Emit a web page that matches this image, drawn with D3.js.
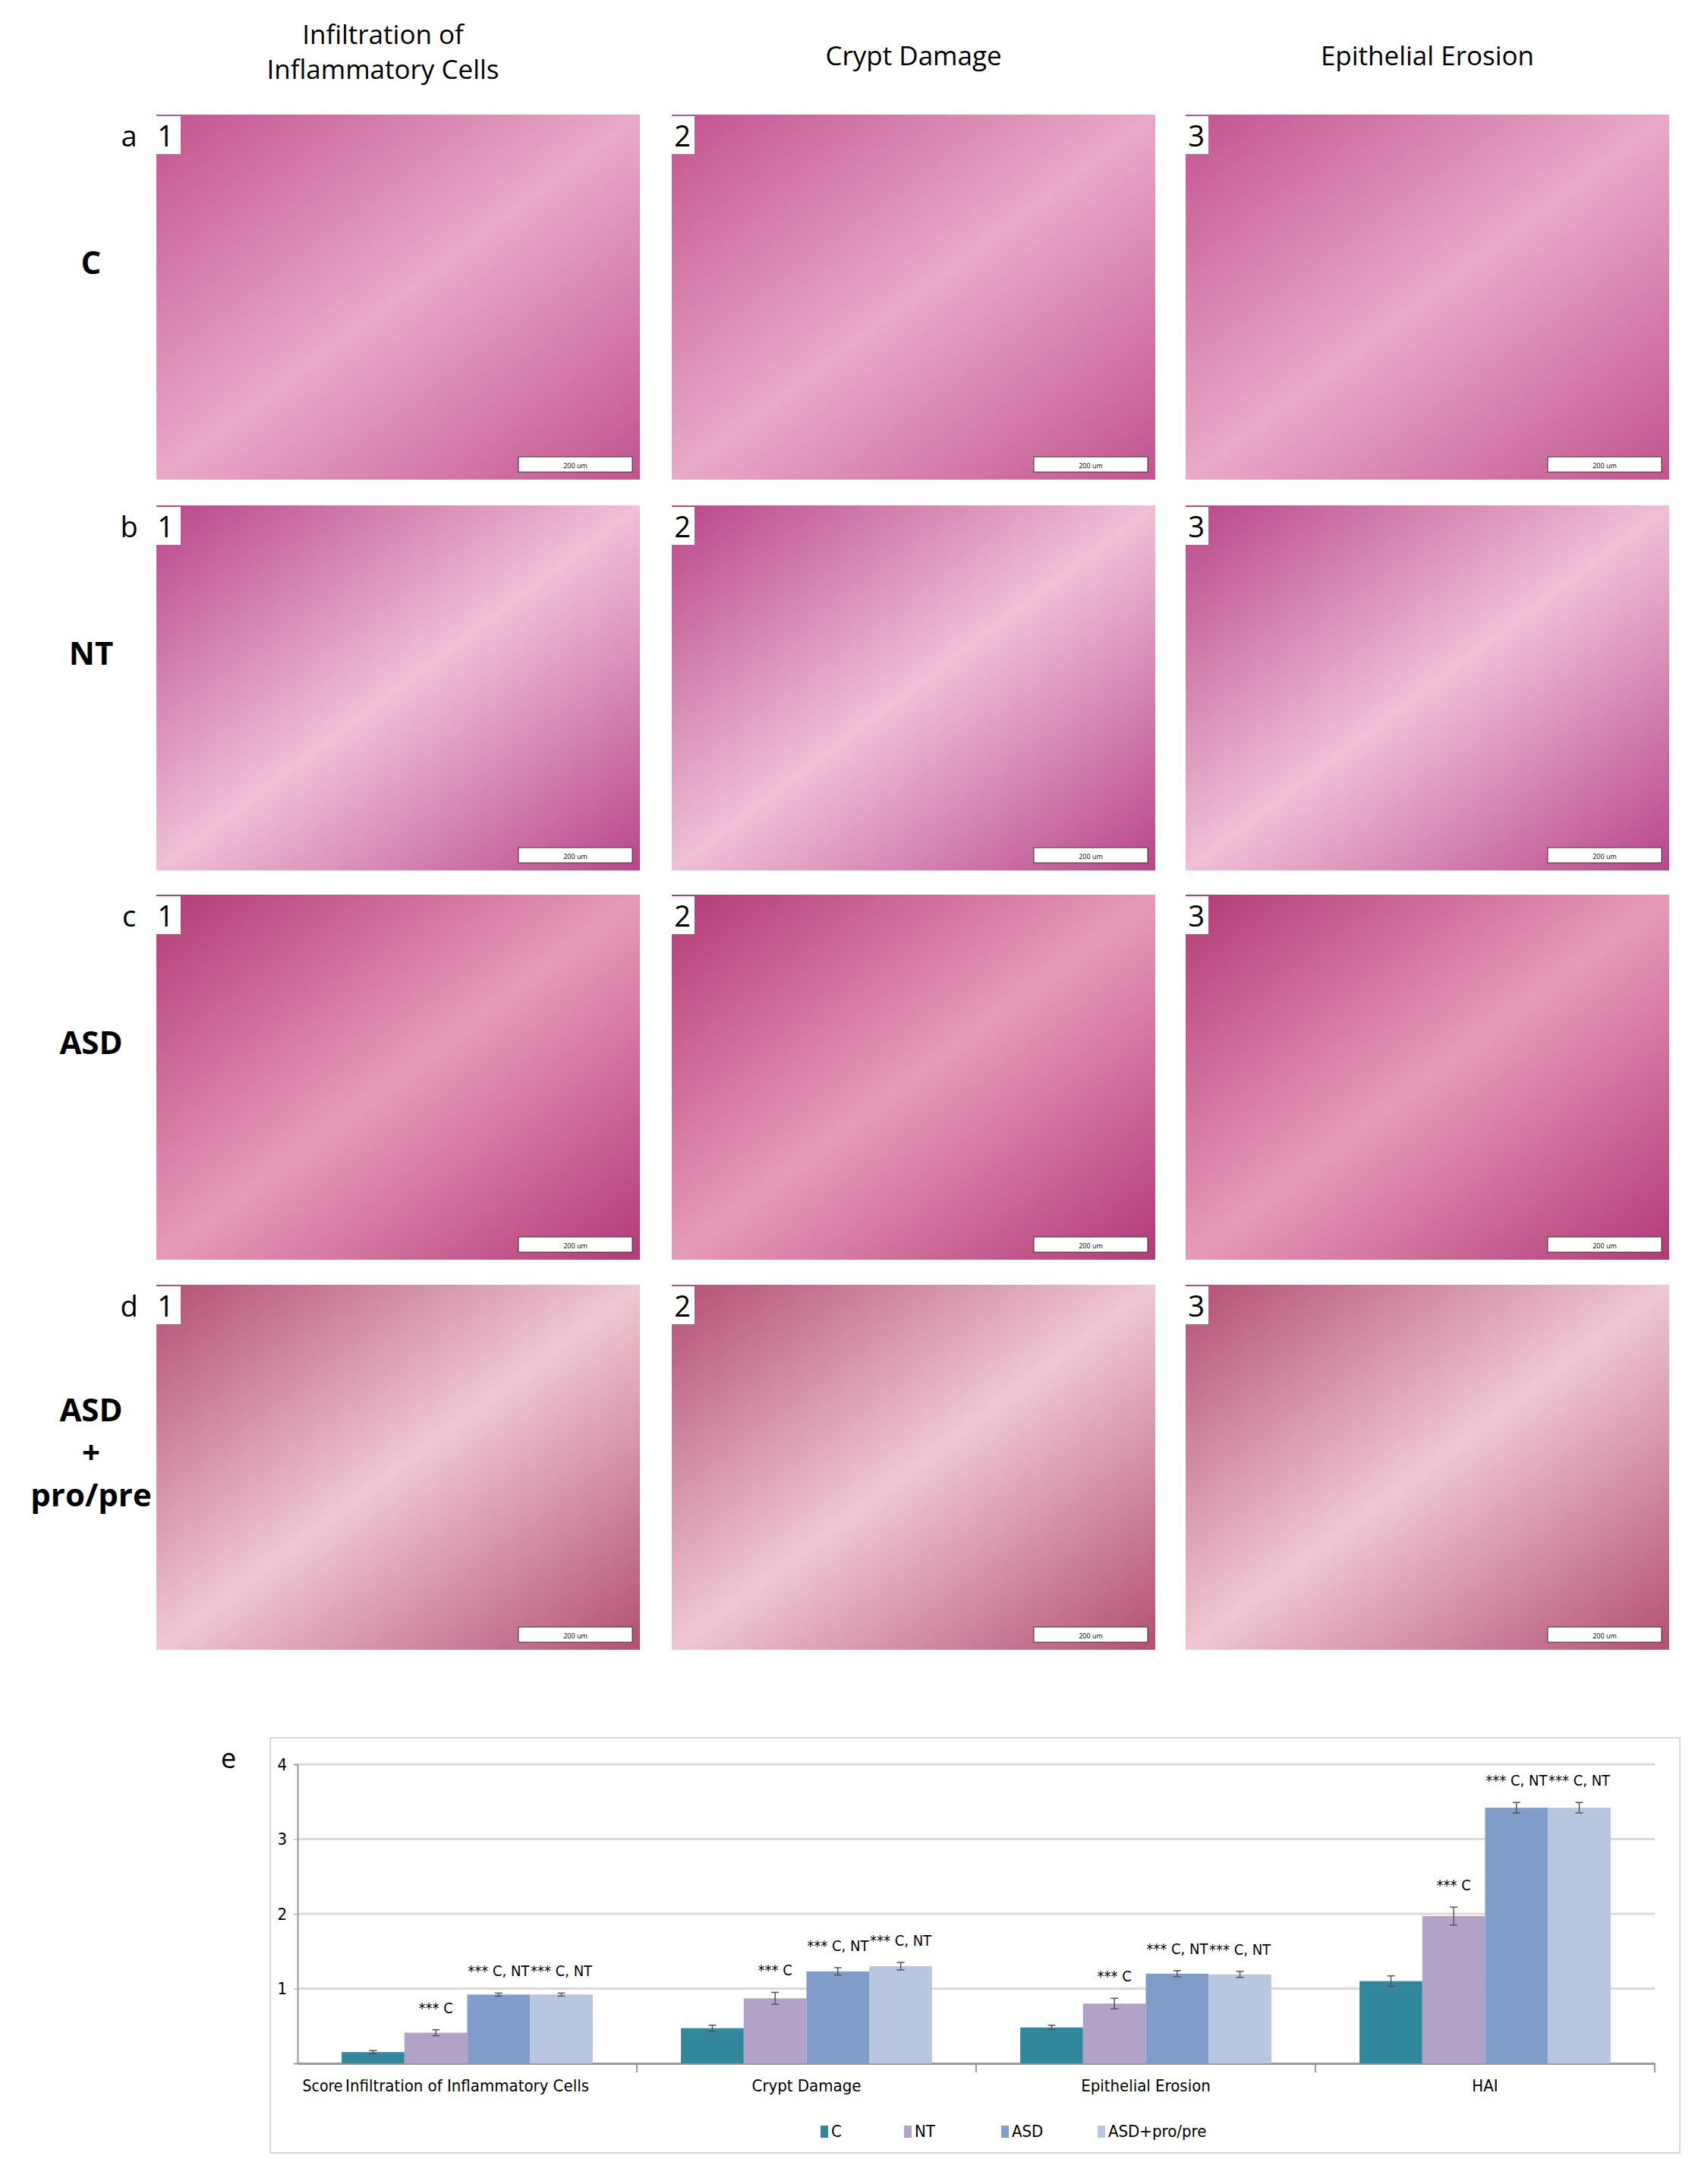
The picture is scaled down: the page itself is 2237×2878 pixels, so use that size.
<!DOCTYPE html>
<html><head><meta charset="utf-8">
<script src="https://cdn.jsdelivr.net/npm/d3@7"></script>
<style>body{margin:0;background:#fff}</style></head>
<body><svg id="c" width="2237" height="2878"></svg>
<script>
const categories=["Infiltration of Inflammatory Cells","Crypt Damage","Epithelial Erosion","HAI"];
const groups=["C","NT","ASD","ASD+pro/pre"];
const colors=["#31879C","#B2A2C8","#7F9DC8","#B8C6E0"];
const valC=[0.15,0.47,0.48,1.10];
const valNT=[0.41,0.87,0.80,1.97];
const valASD=[0.92,1.23,1.20,3.42];
const valPP=[0.92,1.30,1.19,3.42];
const errC=[0.02,0.04,0.03,0.07];
const errNT=[0.04,0.08,0.07,0.12];
const errASD=[0.02,0.05,0.04,0.07];
const errPP=[0.02,0.05,0.04,0.07];
const sigNT=["*** C","*** C","*** C","*** C"];
const sigASD=["*** C, NT","*** C, NT","*** C, NT","*** C, NT"];
const yTicks=[1,2,3,4];
const colHeaders=[["Infiltration of","Inflammatory Cells"],["Crypt Damage"],["Epithelial Erosion"]];
const rowLetters=["a","b","c","d"];
const rowNames=[["C"],["NT"],["ASD"],["ASD","+","pro/pre"]];

const svg=d3.select("#c");
const F="'Open Sans', sans-serif";
const N="'Liberation Sans Narrow', 'DejaVu Sans Condensed', sans-serif";
const colX=[206,885,1562], colW=637, rowY=[151,666,1179,1693], rowH=481;
colHeaders.forEach((h,i)=>{
  const cx=colX[i]+colW/2-(i==0?20:0);
  h.forEach((t,j)=>svg.append("text").attr("x",cx).attr("y",(h.length==2?58+j*46:86)).attr("text-anchor","middle")
    .attr("font-family",F).attr("font-size",35).text(t));
});
const tones=[["#e9a9c8","#c2538f"],["#efc0d6","#b8468a"],["#e79ab8","#b23a78"],["#efc7d2","#b34f74"]];
rowY.forEach((ry,r)=>{
  colX.forEach((cx,c)=>{
    const id="g"+r+c;
    const gr=svg.append("defs").append("linearGradient").attr("id",id).attr("x1",0).attr("y1",0).attr("x2",1).attr("y2",1);
    gr.append("stop").attr("offset","0").attr("stop-color",tones[r][1]);
    gr.append("stop").attr("offset","0.5").attr("stop-color",tones[r][0]);
    gr.append("stop").attr("offset","1").attr("stop-color",tones[r][1]);
    svg.append("rect").attr("x",cx).attr("y",ry).attr("width",colW).attr("height",rowH).attr("fill","url(#"+id+")");
    svg.append("rect").attr("x",cx+colW-160).attr("y",ry+rowH-30).attr("width",150).attr("height",20).attr("fill","#fff").attr("stroke","#333");
    svg.append("text").attr("x",cx+colW-85).attr("y",ry+rowH-15).attr("text-anchor","middle").attr("font-family",F).attr("font-size",9).text("200 um");
    svg.append("rect").attr("x",cx+(c==0?-2:-4)).attr("y",ry+2).attr("width",34).attr("height",50).attr("fill","#fff");
    svg.append("text").attr("x",cx+(c==0?12:14)).attr("y",ry+42).attr("text-anchor","middle").attr("font-family",F).attr("font-size",38).text(c+1);
  });
  svg.append("text").attr("x",170).attr("y",ry+42).attr("text-anchor","middle").attr("font-family",F).attr("font-size",38).text(rowLetters[r]);
  const nm=rowNames[r];
  nm.forEach((t,j)=>svg.append("text").attr("x",120).attr("y",(nm.length==1?ry+210:ry+180+j*56)).attr("text-anchor","middle")
    .attr("font-family",F).attr("font-weight","bold").attr("font-size",42).text(t));
});

svg.append("rect").attr("x",356).attr("y",2290).attr("width",1857).attr("height",547).attr("fill","#fff").attr("stroke","#d9d9d9").attr("stroke-width",2);
svg.append("text").attr("x",301).attr("y",2330).attr("text-anchor","middle").attr("font-family",F).attr("font-size",36).text("e");
const x0=d3.scaleBand().domain(categories).range([392,2180]);
const y=d3.scaleLinear().domain([0,4]).range([2719,2325]);
yTicks.forEach(t=>svg.append("line").attr("x1",392).attr("x2",2180).attr("y1",y(t)).attr("y2",y(t)).attr("stroke","#d9d9d9").attr("stroke-width",3));
svg.append("g").attr("transform","translate(392,0)").call(d3.axisLeft(y).tickValues(yTicks).tickSize(5).tickFormat(d3.format("d")))
  .call(g=>{g.select(".domain").attr("stroke","#999").attr("stroke-width",2);g.selectAll("line").attr("stroke","#999");g.selectAll("text").attr("font-family",N).attr("font-size",22).attr("dx",-6);});
svg.append("g").attr("transform","translate(0,2719)").call(d3.axisBottom(x0).tickSize(0).tickFormat(""))
  .call(g=>g.select(".domain").attr("stroke","#999").attr("stroke-width",3));
categories.forEach((c,i)=>{ if(i>0) svg.append("line").attr("x1",x0(c)).attr("x2",x0(c)).attr("y1",2719).attr("y2",2731).attr("stroke","#999").attr("stroke-width",2);});
svg.append("line").attr("x1",2180).attr("x2",2180).attr("y1",2719).attr("y2",2731).attr("stroke","#999").attr("stroke-width",2);
const bw=x0.bandwidth();
const x1=d3.scaleBand().domain(groups).range([bw*0.13,bw*0.87]);
const vals=[valC,valNT,valASD,valPP], errs=[errC,errNT,errASD,errPP];
categories.forEach((c,i)=>{
  groups.forEach((g,k)=>{
    const v=vals[k][i], e=errs[k][i], bx=x0(c)+x1(g), w=x1.bandwidth();
    svg.append("rect").attr("x",bx).attr("y",y(v)).attr("width",w).attr("height",y(0)-y(v)).attr("fill",colors[k]);
    const cx=bx+w/2;
    svg.append("line").attr("x1",cx).attr("x2",cx).attr("y1",y(v+e)).attr("y2",y(v-e)).attr("stroke","#555").attr("stroke-width",1.5);
    [v+e,v-e].forEach(q=>svg.append("line").attr("x1",cx-5).attr("x2",cx+5).attr("y1",y(q)).attr("y2",y(q)).attr("stroke","#555").attr("stroke-width",1.5));
    let lab=k==1?sigNT[i]:k>=2?sigASD[i]:null;
    if(lab) svg.append("text").attr("x",cx).attr("y",y(v+e)-22).attr("text-anchor","middle").attr("font-family",N).attr("font-size",20).text(lab);
  });
  svg.append("text").attr("x",x0(c)+bw/2).attr("y",2756).attr("text-anchor","middle").attr("font-family",N).attr("font-size",22).text(c);
});
svg.append("text").attr("x",425).attr("y",2756).attr("text-anchor","middle").attr("font-family",N).attr("font-size",21).text("Score");
const lx=[1089,1199,1327,1454];
groups.forEach((g,k)=>{
  svg.append("rect").attr("x",lx[k]-8).attr("y",2801).attr("width",10).attr("height",16).attr("fill",colors[k]);
  svg.append("text").attr("x",lx[k]+6).attr("y",2816).attr("font-family",N).attr("font-size",22).text(g);
});
</script></body></html>
